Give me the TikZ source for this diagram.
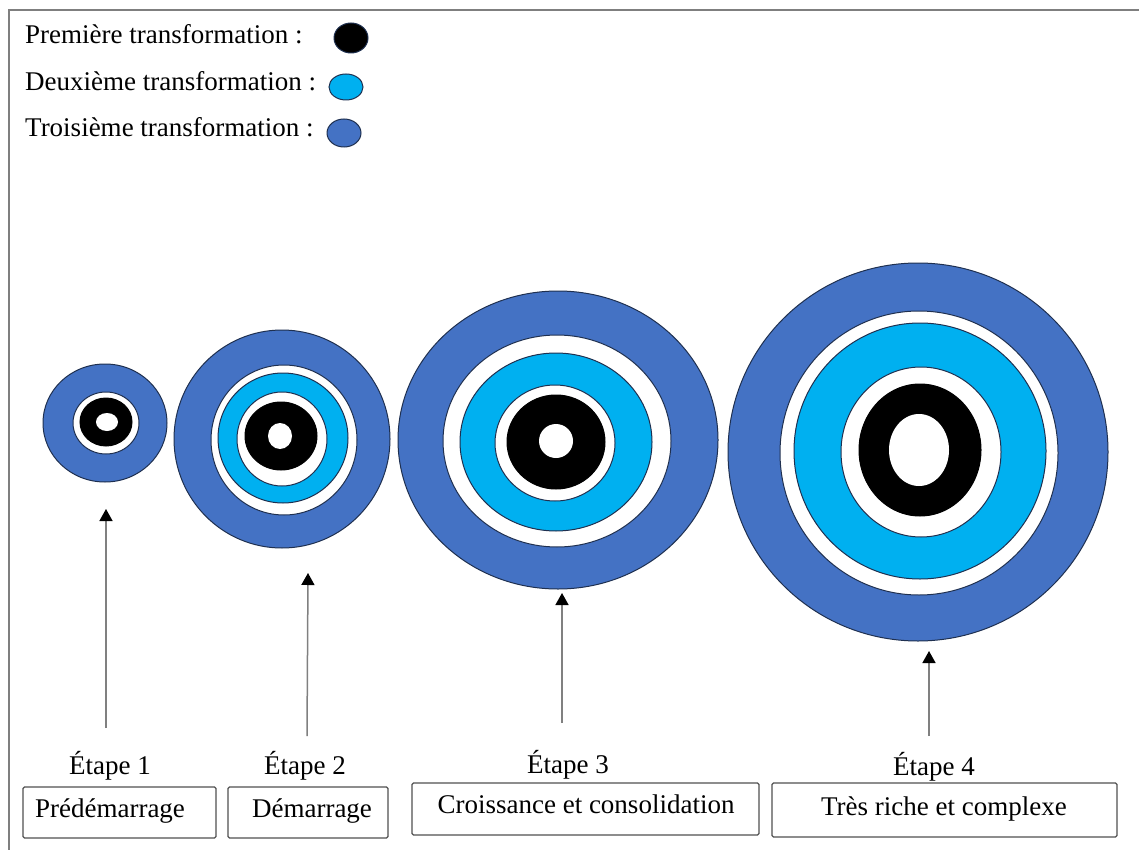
\documentclass[tikz,border=0pt]{standalone}
\usepackage{fontspec}
\setmainfont{Liberation Serif}
\usetikzlibrary{arrows.meta,shapes.geometric}
\definecolor{tblue}{HTML}{4472C4}
\definecolor{tcyan}{HTML}{00B0F0}
\definecolor{edgec}{HTML}{1F3050}
\definecolor{framegray}{HTML}{7F7F7F}
\definecolor{boxgray}{HTML}{505050}
\definecolor{shaftgray}{HTML}{808080}
\newcommand\ringnode[6]{\node[ring,#6,minimum width={2*#4pt},minimum height={2*#5pt}] (#1) at (#2,#3) {};}
\begin{document}
\begin{tikzpicture}[x=1pt,y=-1pt,
  ring/.style={ellipse,inner sep=0pt,outer sep=0pt,draw=edgec,line width=1pt},
  blue ring/.style={fill=tblue},
  white ring/.style={fill=white},
  cyan ring/.style={fill=tcyan},
  black ring/.style={fill=black,draw=black},
  hole ring/.style={fill=white,draw=none},
  txt/.style={font=\fontsize{27}{32}\selectfont,inner sep=0pt,anchor=base},
  legtxt/.style={txt,anchor=base west},
  stagebox/.style={draw=boxgray,line width=1.3pt,rounded corners=1.5pt,inner sep=0pt},
  uparrow/.style={draw=shaftgray,line width=1.5pt,-{Triangle[length=12pt,width=13pt,color=black]}}
]
\useasboundingbox (0,0) rectangle (1139,850);
\fill[white] (0,0) rectangle (1139,850);
% frame
\draw[framegray,line width=2pt] (8.5,850) -- (8.5,10.5) -- (1139,10.5);

% legend
\node[legtxt] (l1) at (25,44) {Première transformation :};
\node[legtxt] (l2) at (25,91) {Deuxième transformation :};
\node[legtxt] (l3) at (25,137) {Troisième transformation :};
\ringnode{lg1}{351}{38}{17}{15}{fill=black}
\ringnode{lg2}{346}{87}{17}{13}{cyan ring}
\ringnode{lg3}{344}{133}{17}{14}{blue ring}

% stage 1
\ringnode{c1o}{105}{423}{62}{59}{blue ring}
\ringnode{c1w}{106}{423}{33}{31}{white ring}
\ringnode{c1b}{106}{422}{26}{24}{black ring}
\ringnode{c1h}{107}{422}{11}{9}{hole ring}

% stage 2
\ringnode{c2o}{282}{439}{108}{109}{blue ring}
\ringnode{c2w}{284}{440}{73}{75}{white ring}
\ringnode{c2c}{283}{438}{65}{65}{cyan ring}
\ringnode{c2v}{282}{439}{45}{47}{white ring}
\ringnode{c2b}{281}{436}{36}{34}{black ring}
\ringnode{c2h}{280}{436}{12}{13}{hole ring}

% stage 3
\ringnode{c3o}{558}{440}{160}{149}{blue ring}
\ringnode{c3w}{557}{441}{114}{106}{white ring}
\ringnode{c3c}{556}{442}{96}{89}{cyan ring}
\ringnode{c3v}{555}{443}{60}{58}{white ring}
\ringnode{c3b}{556}{442}{49}{47}{black ring}
\ringnode{c3h}{556}{441}{17}{17}{hole ring}

% stage 4
\ringnode{c4o}{918}{452}{190}{189}{blue ring}
\ringnode{c4w}{919}{453}{139}{142}{white ring}
\ringnode{c4c}{920}{451}{126}{128}{cyan ring}
\ringnode{c4v}{921}{452}{80}{85}{white ring}
\ringnode{c4b}{920}{450}{61}{66}{black ring}
\ringnode{c4h}{919}{450}{30}{36}{hole ring}

% arrows
\coordinate (t1) at (106,728); \coordinate (h1) at (106,509);
\coordinate (t2) at (307,736); \coordinate (h2) at (308,573);
\coordinate (t3) at (562,723); \coordinate (h3) at (562,593);
\coordinate (t4) at (929,736); \coordinate (h4) at (929,651);
\draw[uparrow] (t1) -- (h1);
\draw[uparrow] (t2) -- (h2);
\draw[uparrow] (t3) -- (h3);
\draw[uparrow] (t4) -- (h4);

% stage labels
\node[txt] (e1) at (110,774) {Étape 1};
\node[txt] (e2) at (305,774) {Étape 2};
\node[txt] (e3) at (568,773) {Étape 3};
\node[txt] (e4) at (934,775) {Étape 4};

% boxes
\node[stagebox,minimum width=193pt,minimum height=51pt] (b1) at (119.5,812.5) {};
\node[stagebox,minimum width=160pt,minimum height=51pt] (b2) at (308,812.5) {};
\node[stagebox,minimum width=347pt,minimum height=52pt] (b3) at (585.5,809) {};
\node[stagebox,minimum width=345pt,minimum height=54pt] (b4) at (944.5,810) {};
\node[txt] (p1) at (110,817) {Prédémarrage};
\node[txt] (p2) at (312,817) {Démarrage};
\node[txt] (p3) at (586,813) {Croissance et consolidation};
\node[txt] (p4) at (944,815) {Très riche et complexe};
\end{tikzpicture}
\end{document}
